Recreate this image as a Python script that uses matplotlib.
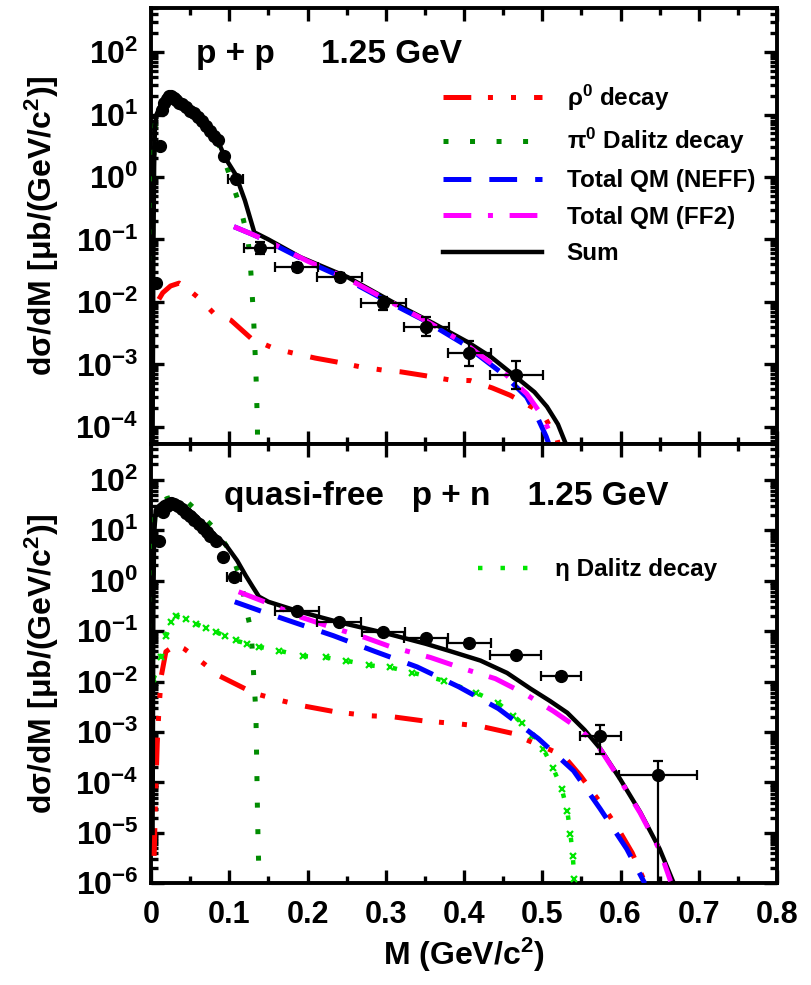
import numpy as np
import matplotlib
matplotlib.use("Agg")
import matplotlib.pyplot as plt
from matplotlib.ticker import (LogLocator, FuncFormatter, MultipleLocator, NullFormatter,
                               FixedLocator)

# ---------------- data: p + p ----------------
pp_m = [0.006, 0.0115, 0.014, 0.017, 0.020, 0.023, 0.026, 0.029, 0.032, 0.036, 0.040,
        0.045, 0.050, 0.055, 0.060, 0.065, 0.070, 0.075, 0.080, 0.085, 0.093, 0.108,
        0.139, 0.186, 0.241, 0.297, 0.352, 0.407, 0.467]
pp_y = [0.02, 3.1, 12, 15.5, 18, 19.5, 19.5, 18.5, 17, 15.5, 14.5,
        13, 11.5, 10.5, 9.2, 8.0, 6.5, 5.5, 4.6, 3.9, 2.2, 0.93,
        0.073, 0.036, 0.025, 0.0095, 0.004, 0.0015, 6.8e-4]
pp_xerr = [0, 0, 0, 0, 0, 0, 0, 0, 0, 0, 0,
           0, 0, 0, 0, 0, 0, 0, 0, 0, 0.004, 0.01,
           0.02, 0.028, 0.029, 0.029, 0.029, 0.027, 0.034]
pp_ylo = [0, 0, 0, 0, 0, 0, 0, 0, 0, 0, 0,
          0, 0, 0, 0, 0, 0, 0, 0, 0, 0, 0,
          0.015, 0.0046, 0.0032, 0.0021, 0.0012, 0.00055, 2.7e-4]
pp_yhi = [0, 0, 0, 0, 0, 0, 0, 0, 0, 0, 0,
          0, 0, 0, 0, 0, 0, 0, 0, 0, 0, 0,
          0.019, 0.0053, 0.0037, 0.0027, 0.0018, 0.00088, 4.5e-4]

pp_sum_m = [0.002, 0.003, 0.004, 0.005, 0.007, 0.010, 0.015, 0.020, 0.025, 0.030, 0.040,
            0.050, 0.064, 0.075, 0.085, 0.095, 0.108, 0.120, 0.132, 0.150, 0.191, 0.251,
            0.315, 0.360, 0.404, 0.435, 0.463, 0.490, 0.506, 0.520, 0.531]
pp_sum_y = [5e-5, 0.05, 1.5, 6, 10, 12, 16, 19, 20.5, 19.5, 15,
            11.5, 8.8, 5.8, 3.9, 2.0, 1.1, 0.42, 0.13, 0.1, 0.052, 0.025,
            0.009, 0.0046, 0.0023, 0.0013, 6.8e-4, 3.6e-4, 2.1e-4, 1.1e-4, 5e-5]

pp_pi0_m = [0.001, 0.002, 0.003, 0.004, 0.006, 0.010, 0.015, 0.020, 0.025, 0.030, 0.040,
            0.050, 0.064, 0.075, 0.085, 0.096, 0.106, 0.115, 0.124, 0.127, 0.131, 0.134,
            0.136, 0.1365]
pp_pi0_y = [0.017, 0.1, 1.0, 4, 9, 11.5, 15.5, 18.5, 20, 19, 14.5,
            11, 8.5, 5.6, 3.8, 1.55, 0.66, 0.3, 0.1, 0.04, 0.0058, 8e-4,
            1.1e-4, 1e-5]

pp_rho_m = [0.010, 0.015, 0.025, 0.036, 0.045, 0.064, 0.080, 0.102, 0.128, 0.157, 0.183,
            0.210, 0.236, 0.268, 0.296, 0.319, 0.350, 0.383, 0.408, 0.436, 0.459, 0.489,
            0.505, 0.519, 0.525]
pp_rho_y = [0.011, 0.014, 0.018, 0.020, 0.017, 0.0107, 0.0066, 0.0051, 0.0026, 0.0018, 0.0015,
            0.00126, 0.0011, 9.1e-4, 8.1e-4, 7.6e-4, 6.6e-4, 5.6e-4, 5.5e-4, 4.2e-4, 3.2e-4, 2.0e-4,
            1.3e-4, 6.3e-5, 3e-5]

pp_neff_m = [0.106, 0.13, 0.15, 0.2, 0.25, 0.3, 0.35, 0.4, 0.45, 0.48, 0.494, 0.505, 0.512]
pp_neff_y = [0.16, 0.12, 0.092, 0.044, 0.023, 0.0105, 0.005, 0.0021, 7e-4, 3e-4, 1.4e-4, 7e-5, 4e-5]

pp_ff2_m = [0.106, 0.13, 0.15, 0.2, 0.25, 0.3, 0.35, 0.4, 0.45, 0.48, 0.50, 0.512, 0.518]
pp_ff2_y = [0.16, 0.12, 0.093, 0.045, 0.024, 0.011, 0.0051, 0.0022, 7.5e-4, 3.4e-4, 1.5e-4, 7e-5, 4e-5]

# ---------------- data: quasi-free p + n ----------------
pn_m = [0.010, 0.0155, 0.020, 0.0255, 0.030, 0.035, 0.040, 0.045, 0.050, 0.055, 0.061,
        0.066, 0.071, 0.076, 0.083, 0.092, 0.106, 0.187, 0.240, 0.297, 0.351, 0.406,
        0.466, 0.524, 0.574, 0.648]
pn_y = [6.2, 23, 30, 34, 33, 30, 26, 22, 19, 16, 13,
        11, 9, 7.5, 6, 2.9, 1.2, 0.25, 0.15, 0.097, 0.074, 0.059,
        0.034, 0.013, 8.5e-4, 1.4e-4]
pn_xerr = [0, 0, 0, 0, 0, 0, 0, 0, 0, 0, 0,
           0, 0, 0, 0, 0, 0.009, 0.028, 0.028, 0.028, 0.028, 0.028,
           0.033, 0.026, 0.026, 0.05]
pn_ylo = [0, 0, 0, 0, 0, 0, 0, 0, 0, 0, 0,
          0, 0, 0, 0, 0, 0, 0.02, 0.012, 0.008, 0.007, 0.006,
          0.004, 0.002, 4.8e-4, 1.399e-4]
pn_yhi = [0, 0, 0, 0, 0, 0, 0, 0, 0, 0, 0,
          0, 0, 0, 0, 0, 0, 0.02, 0.012, 0.008, 0.007, 0.006,
          0.004, 0.002, 5.3e-4, 1.3e-4]

pn_sum_m = [0.002, 0.003, 0.004, 0.006, 0.010, 0.015, 0.020, 0.028, 0.040, 0.057, 0.075,
            0.096, 0.110, 0.121, 0.130, 0.138, 0.150, 0.187, 0.240, 0.297, 0.351, 0.380,
            0.421, 0.455, 0.485, 0.510, 0.532, 0.554, 0.574, 0.599, 0.625, 0.650, 0.667]
pn_sum_y = [1e-5, 0.3, 8, 25, 30, 35, 38, 40, 32, 19.5, 10,
            5, 2.5, 1.26, 0.75, 0.48, 0.38, 0.25, 0.15, 0.093, 0.056, 0.041,
            0.026, 0.0148, 0.0072, 0.0041, 0.0024, 1.1e-3, 4.7e-4, 1.2e-4, 2.6e-5, 4.8e-6, 1.1e-6]

pn_pi0_m = [0.001, 0.002, 0.003, 0.005, 0.010, 0.020, 0.034, 0.045, 0.060, 0.085, 0.104,
            0.115, 0.121, 0.128, 0.130, 0.132, 0.134, 0.135, 0.136, 0.137, 0.138]
pn_pi0_y = [0.01, 0.5, 5, 20, 30, 42, 49, 38, 23, 9.4, 3.1,
            1.0, 0.3, 0.1, 0.028, 0.0083, 0.0025, 3e-4, 3e-5, 5e-6, 1.5e-6]

pn_rho_m = [0.004, 0.006, 0.008, 0.010, 0.013, 0.019, 0.032, 0.042, 0.064, 0.087, 0.125,
            0.138, 0.166, 0.194, 0.236, 0.278, 0.309, 0.348, 0.393, 0.421, 0.463, 0.476,
            0.490, 0.505, 0.527, 0.549, 0.580, 0.597, 0.615, 0.629]
pn_rho_y = [3.5e-6, 6e-5, 6e-4, 2.5e-3, 0.0125, 0.039, 0.054, 0.045, 0.025, 0.013, 0.0066,
            0.0055, 0.0042, 0.0033, 0.0025, 0.0021, 0.0020, 0.00166, 0.00145, 0.0013, 9.3e-4, 7.4e-4,
            6e-4, 4.8e-4, 3.4e-4, 1.35e-4, 3e-5, 1.2e-5, 4e-6, 1.25e-6]

pn_eta_m = [0.003, 0.013, 0.019, 0.025, 0.032, 0.045, 0.057, 0.070, 0.083, 0.095, 0.108,
            0.123, 0.138, 0.163, 0.194, 0.223, 0.249, 0.278, 0.306, 0.334, 0.374, 0.415,
            0.443, 0.463, 0.474, 0.487, 0.501, 0.514, 0.525, 0.532, 0.536, 0.539, 0.541]
pn_eta_y = [0.011, 0.03, 0.08, 0.15, 0.2, 0.17, 0.14, 0.115, 0.096, 0.08, 0.065,
            0.056, 0.049, 0.041, 0.032, 0.03, 0.026, 0.021, 0.019, 0.015, 0.0104, 0.006,
            0.0038, 0.0021, 0.0015, 8.4e-4, 4.7e-4, 1.9e-4, 7.4e-5, 2.7e-5, 9.5e-6, 3.5e-6, 1.2e-6]

pn_neff_m = [0.107, 0.14, 0.182, 0.233, 0.287, 0.34, 0.393, 0.444, 0.495, 0.54, 0.574, 0.608, 0.631]
pn_neff_y = [0.38, 0.25, 0.15, 0.081, 0.039, 0.0195, 0.0079, 0.0029, 7.4e-4, 1.7e-4, 3e-5, 4.8e-6, 1e-6]

pn_ff2_m = [0.112, 0.151, 0.191, 0.232, 0.274, 0.306, 0.357, 0.399, 0.44, 0.478, 0.514,
            0.549, 0.574, 0.599, 0.625, 0.650, 0.664]
pn_ff2_y = [0.6, 0.35, 0.19, 0.117, 0.074, 0.049, 0.03, 0.018, 0.0114, 0.0057, 0.0026,
            1.1e-3, 4.6e-4, 1.15e-4, 2.5e-5, 4.6e-6, 1.1e-6]

# ---------------- style ----------------
plt.rcParams["font.family"] = ["Liberation Sans", "DejaVu Sans"]
plt.rcParams["font.weight"] = "bold"
plt.rcParams["axes.labelweight"] = "bold"
plt.rcParams["mathtext.fontset"] = "custom"
plt.rcParams["mathtext.bf"] = "Liberation Sans:bold"
plt.rcParams["mathtext.rm"] = "Liberation Sans:bold"
plt.rcParams["mathtext.default"] = "bf"
plt.rcParams["lines.scale_dashes"] = False

RED = "#ff0000"
DKGREEN = "#008c00"
LTGREEN = "#00e600"
BLUE = "#0000ff"
MAGENTA = "#ff00ff"

LS_RHO = (0, (20, 12, 3.6, 13, 3.6, 13))
LS_PI0 = (0, (3.6, 15.5))
LS_ETA = (0, (3.2, 13))
LS_NEFF = (0, (20, 13))
LS_FF2 = (0, (20, 12, 3.6, 12))

fig = plt.figure(figsize=(8.11, 9.85), dpi=100)
ax1 = fig.add_axes([0.1862, 0.5497, 0.7719, 0.4418])
ax2 = fig.add_axes([0.1862, 0.1032, 0.7719, 0.4465])


def style_axis(ax, ylim, decades, xlabels):
    ax.set_xlim(0, 0.8)
    ax.set_yscale("log")
    ax.set_ylim(*ylim)
    ax.xaxis.set_major_locator(MultipleLocator(0.1))
    ax.xaxis.set_minor_locator(MultipleLocator(0.05))
    # only the decades inside the range, so no hidden labels lie outside the panel
    ax.yaxis.set_major_locator(FixedLocator(10.0 ** np.arange(decades[0], decades[1] + 1)))
    ax.yaxis.set_minor_locator(LogLocator(base=10, subs=np.arange(2, 10), numticks=100))
    ax.yaxis.set_minor_formatter(NullFormatter())
    ax.yaxis.set_major_formatter(FuncFormatter(lambda v, p: r"$10^{%d}$" % round(np.log10(v))))
    if xlabels:
        ax.xaxis.set_major_formatter(FuncFormatter(lambda v, p: "0" if abs(v) < 1e-9 else "%.1f" % v))
    else:
        ax.xaxis.set_major_formatter(NullFormatter())
    ax.tick_params(which="both", direction="in", top=True, right=True, width=2.4)
    ax.tick_params(which="major", length=9.4)
    ax.tick_params(which="minor", length=5)
    ax.tick_params(axis="y", which="major", pad=9, labelsize=23)
    ax.tick_params(axis="x", which="major", pad=12, labelsize=22)
    for s in ax.spines.values():
        s.set_linewidth(2.8)
    ax.set_ylabel(r"d$\sigma$/dM [$\mu$b/(GeV/c$^{2}$)]", fontsize=23, fontweight="bold")
    ax.yaxis.set_label_coords(-0.143, 0.5)


def draw_data(ax, m, y, xerr, ylo, yhi):
    ax.errorbar(m, y, xerr=xerr, yerr=[ylo, yhi], fmt="o", color="black", ms=8.5,
                elinewidth=1.6, capsize=3.5, capthick=1.6, zorder=10)


# ---- upper panel: p + p ----
ax1.plot(pp_rho_m, pp_rho_y, color=RED, lw=3.6, ls=LS_RHO, label="ρ$^{0}$ decay", zorder=3)
ax1.plot(pp_pi0_m, pp_pi0_y, color=DKGREEN, lw=3.6, ls=LS_PI0, label="π$^{0}$ Dalitz decay", zorder=3)
ax1.plot(pp_neff_m, pp_neff_y, color=BLUE, lw=3.6, ls=LS_NEFF, label="Total QM (NEFF)", zorder=5)
ax1.plot(pp_ff2_m, pp_ff2_y, color=MAGENTA, lw=3.6, ls=LS_FF2, label="Total QM (FF2)", zorder=6)
ax1.plot(pp_sum_m, pp_sum_y, color="black", lw=3.2, label="Sum", zorder=4)
draw_data(ax1, pp_m, pp_y, pp_xerr, pp_ylo, pp_yhi)
style_axis(ax1, (5.4e-5, 500), (-4, 2), False)
ax1.text(0.072, 0.874, "p + p     1.25 GeV", transform=ax1.transAxes, fontsize=24,
         fontweight="bold", ha="left", va="baseline")
ax1.legend(loc="upper left", bbox_to_anchor=(0.466, 0.83), frameon=False, fontsize=17.5,
           handlelength=4.1, handletextpad=1.0, labelspacing=0.55, borderpad=0, borderaxespad=0)

# ---- lower panel: quasi-free p + n ----
ax2.plot(pn_rho_m, pn_rho_y, color=RED, lw=3.6, ls=LS_RHO, zorder=3)
ax2.plot(pn_pi0_m, pn_pi0_y, color=DKGREEN, lw=3.6, ls=LS_PI0, zorder=3)
ax2.plot(pn_eta_m, pn_eta_y, color=LTGREEN, lw=3.2, ls=LS_ETA, label="η Dalitz decay", zorder=3)
ax2.plot(pn_eta_m, pn_eta_y, color=LTGREEN, lw=0, marker="x", ms=4, mew=1.6, zorder=3)
ax2.plot(pn_sum_m, pn_sum_y, color="black", lw=3.2, zorder=4)
ax2.plot(pn_neff_m, pn_neff_y, color=BLUE, lw=3.6, ls=LS_NEFF, zorder=5)
ax2.plot(pn_ff2_m, pn_ff2_y, color=MAGENTA, lw=3.6, ls=LS_FF2, zorder=6)
draw_data(ax2, pn_m, pn_y, pn_xerr, pn_ylo, pn_yhi)
style_axis(ax2, (1e-6, 520), (-6, 2), True)
ax2.text(0.116, 0.861, "quasi-free   p + n    1.25 GeV", transform=ax2.transAxes, fontsize=24,
         fontweight="bold", ha="left", va="baseline")
ax2.legend(loc="upper left", bbox_to_anchor=(0.523, 0.739), frameon=False, fontsize=17.5,
           handlelength=2.15, handletextpad=1.0, borderpad=0, borderaxespad=0)
ax2.set_xlabel("M (GeV/c$^{2}$)", fontsize=23, fontweight="bold")
ax2.xaxis.set_label_coords(0.5, -0.12)

fig.savefig("out.png", dpi=100)
